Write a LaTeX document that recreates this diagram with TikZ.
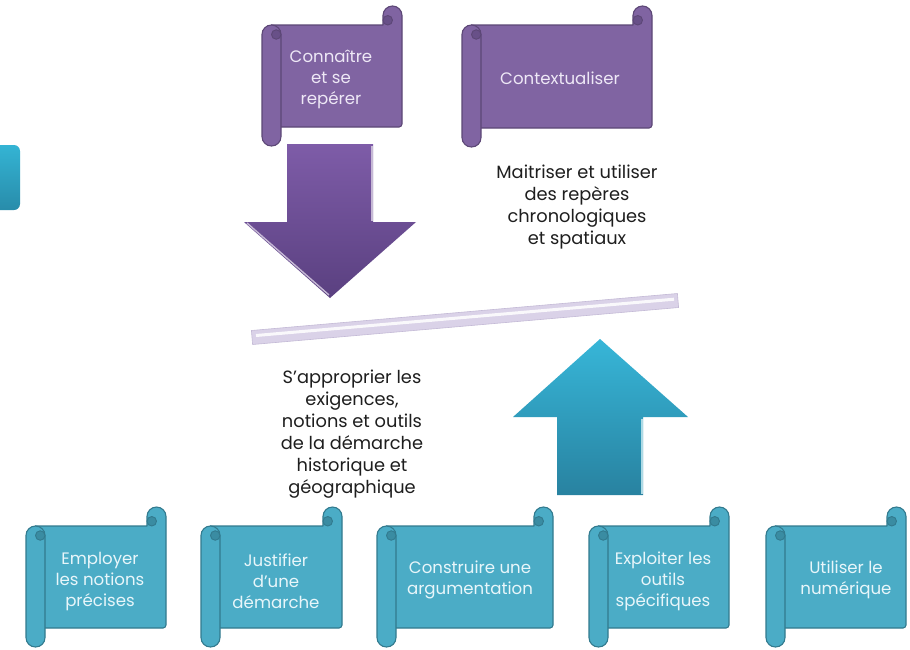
\documentclass[tikz,border=0pt]{standalone}
\usepackage{fontspec}
\setmainfont{Poppins}
\definecolor{pfill}{RGB}{128,100,162}
\definecolor{pline}{RGB}{92,71,118}
\definecolor{pcurl}{RGB}{104,80,136}
\definecolor{ptext}{RGB}{238,232,246}
\definecolor{cfill}{RGB}{75,172,198}
\definecolor{cline}{RGB}{50,122,142}
\definecolor{ccurl}{RGB}{58,140,162}
\definecolor{ctext}{RGB}{232,246,250}
\definecolor{bartone}{RGB}{218,210,232}
\definecolor{barline}{RGB}{196,186,214}
\definecolor{darktext}{RGB}{30,30,30}
\newcommand\scrollfig[7]{%
  \pgfmathsetmacro\sxa{#4}\pgfmathsetmacro\sxb{#5}%
  \pgfmathsetmacro\sya{-#6}\pgfmathsetmacro\syb{-#7}%
  \draw[fill=#1,draw=#2,line width=1.1pt,line join=round]
    ({\sxa+9.5},{\sya-19}) -- ({\sxb-19},{\sya-19}) -- ({\sxb-19},{\sya-9.5})
    arc[start angle=180,end angle=0,radius=9.5] -- ({\sxb},{\syb+22})
    arc[start angle=0,end angle=-90,radius=3] -- ({\sxa+9.5},{\syb+19}) -- cycle;
  \draw[fill=#3,draw=#2,line width=0.9pt] ({\sxb-14.25},{\sya-14.25}) circle[radius=4.75];
  \draw[fill=#1,draw=#2,line width=1.1pt,rounded corners=9.4] ({\sxa},{\sya-19}) rectangle ({\sxa+19},{\syb});
  \draw[fill=#3,draw=#2,line width=0.9pt] ({\sxa+14.25},{\sya-28.5}) circle[radius=4.75];
}
\tikzset{
  scrolltext/.style={align=center,font=\fontsize{16.6}{21.2}\selectfont,inner sep=0pt},
  bigtext/.style={align=center,font=\fontsize{17.8}{22}\selectfont,text=darktext,inner sep=0pt},
}
\begin{document}
\begin{tikzpicture}[x=1pt,y=1pt]
\useasboundingbox (0,0) rectangle (910,-649);
\fill[white] (0,0) rectangle (910,-649);
% left cyan tab
\shade[top color={rgb,255:red,52;green,180;blue,212},bottom color={rgb,255:red,40;green,140;blue,170},rounded corners=6] (-12,-145) rectangle (20,-210);
% top scrolls
\scrollfig{pfill}{pline}{pcurl}{262}{402}{6}{146}
\node[scrolltext,text=ptext] (t1) at (331,-79.5) {Connaître\\et se\\repérer};
\scrollfig{pfill}{pline}{pcurl}{462}{652}{6}{147}
\node[scrolltext,text=ptext] (t2) at (560,-78) {Contextualiser};
% purple arrow down
\shade[top color={rgb,255:red,126;green,92;blue,168},bottom color={rgb,255:red,90;green,64;blue,128}]
  (287,-144) -- (373,-144) -- (373,-222) -- (416,-222) -- (330,-298) -- (244,-222) -- (287,-222) -- cycle;
\draw[white!55!pfill,line width=1.4pt] (247,-223) -- (329,-295);
\draw[white!55!pfill,line width=1.2pt] (372,-146) -- (372,-221);
% balance bar
\draw[fill=bartone,draw=barline,line width=0.6pt] (251.4,-330.5) -- (677.4,-293.5) -- (678.6,-307.5) -- (252.6,-344.5) -- cycle;
\draw[white,line width=3pt,opacity=0.85] (256,-335.5) -- (674,-299.2);
% cyan arrow up
\shade[top color={rgb,255:red,55;green,182;blue,216},bottom color={rgb,255:red,40;green,130;blue,160}]
  (600,-339) -- (688,-417) -- (643,-417) -- (643,-495) -- (557,-495) -- (557,-417) -- (513,-417) -- cycle;
\draw[white!55!cfill,line width=1.2pt] (642,-419) -- (642,-494);
% texts
\node[bigtext] (m) at (577,-207) {Maitriser et utiliser\\des repères\\chronologiques\\et spatiaux};
\node[bigtext] (s) at (352,-434) {S’approprier les\\exigences,\\notions et outils\\de la démarche\\historique et\\géographique};
% bottom scrolls
\scrollfig{cfill}{cline}{ccurl}{26}{166}{507}{647}
\node[scrolltext,text=ctext] (b1) at (100,-581.5) {Employer\\les notions\\précises};
\scrollfig{cfill}{cline}{ccurl}{201}{342}{507}{647}
\node[scrolltext,text=ctext] (b2) at (276,-581.5) {Justifier\\d’une\\démarche};
\scrollfig{cfill}{cline}{ccurl}{377}{553}{507}{647}
\node[scrolltext,text=ctext] (b3) at (470,-580) {Construire une\\argumentation};
\scrollfig{cfill}{cline}{ccurl}{589}{729}{507}{647}
\node[scrolltext,text=ctext] (b4) at (663,-581.5) {Exploiter les\\outils\\spécifiques};
\scrollfig{cfill}{cline}{ccurl}{766}{906}{507}{647}
\node[scrolltext,text=ctext] (b5) at (846,-580) {Utiliser le\\numérique};
\end{tikzpicture}
\end{document}
